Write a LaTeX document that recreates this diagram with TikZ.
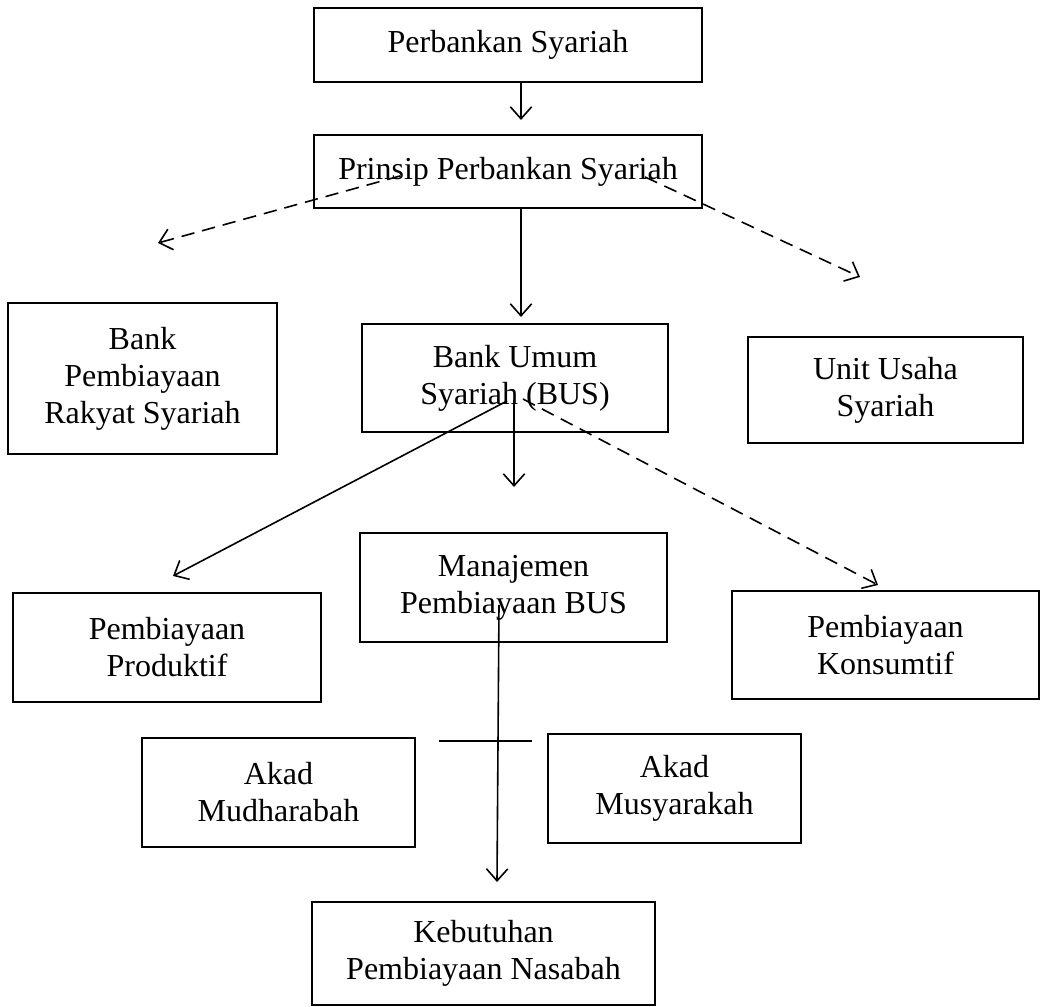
\documentclass[tikz,border=0pt]{standalone}
\usepackage{fontspec}
\setmainfont{Liberation Serif}
\usetikzlibrary{arrows.meta,calc}

\begin{document}
\begin{tikzpicture}[x=0.375pt, y=-0.375pt,
        box/.style={draw, line width=0.7pt, align=center, inner sep=0pt,
            font=\fontsize{12}{13.9}\selectfont},
        wh/.style 2 args={minimum width=#1*0.375pt, minimum height=#2*0.375pt},
        >={Straight Barb[length=4.5pt,width=8pt]},
        line/.style={line width=0.6pt},
        dashline/.style={line width=0.6pt, dash pattern=on 5pt off 3pt}]
                \useasboundingbox (0,0) rectangle (1044,1007);

                \node[box, wh={388}{74}] (perbankan) at (508, 45) {Perbankan Syariah};
                \node[box, wh={388}{73}] (prinsip) at (508, 171.5) {Prinsip Perbankan Syariah};

                \node[box, wh={269}{151}] (bprs) at (142.5, 378.5) {Bank\\Pembiayaan\\Rakyat Syariah};
                \node[box, wh={306}{108}] (bus) at (515, 378) {Bank Umum\\Syariah (BUS)};
                \node[box, wh={275}{106}] (uus) at (885.5, 390) {Unit Usaha\\Syariah};

                \node[box, wh={307}{109}] (manajemen) at (513.5, 587.5) {Manajemen\\Pembiayaan BUS};
                \node[box, wh={308}{109}] (produktif) at (167, 647.5) {Pembiayaan\\Produktif};
                \node[box, wh={307}{108}] (konsumtif) at (885.5, 645) {Pembiayaan\\Konsumtif};

                \node[box, wh={273}{109}] (mudharabah) at (278.5, 792.5) {Akad\\Mudharabah};
                \node[box, wh={253}{109}] (musyarakah) at (674.5, 788.5) {Akad\\Musyarakah};

                \node[box, wh={343}{103}] (kebutuhan) at (483.5, 953.5) {Kebutuhan\\Pembiayaan Nasabah};

                % free ends of the arrows
                \coordinate (t1) at (521, 120);
                \coordinate (t2) at (521, 317);
                \coordinate (t3) at (158, 243);
                \coordinate (t4) at (860, 277);
                \coordinate (t5) at (514, 487);
                \coordinate (t6) at (173, 576);
                \coordinate (t7) at (878, 585);
                \coordinate (t8) at (497, 882);
                \coordinate (c1) at (439, 741);
                \coordinate (c2) at (532, 741);

                \draw[line, ->] (perbankan.south -| t1) -- (t1);
                \draw[line, ->] (prinsip.south -| t2) -- (t2);
                \draw[dashline, ->] ($(prinsip.center)+(-108, 4.5)$) -- (t3);
                \draw[dashline, ->] ($(prinsip.center)+(137, 5.5)$) -- (t4);
                \draw[line, ->] ($(bus.center)+(-1, 22)$) -- (t5);
                \draw[line, ->] ($(bus.center)+(-8, 23)$) -- (t6);
                \draw[dashline, ->] ($(bus.center)+(8, 21)$) -- (t7);
                \draw[line, ->] ($(manajemen.center)+(-14.5, 17.5)$) -- (t8);
                \draw[line] (c1) -- (c2);
            \end{tikzpicture}
\end{document}
